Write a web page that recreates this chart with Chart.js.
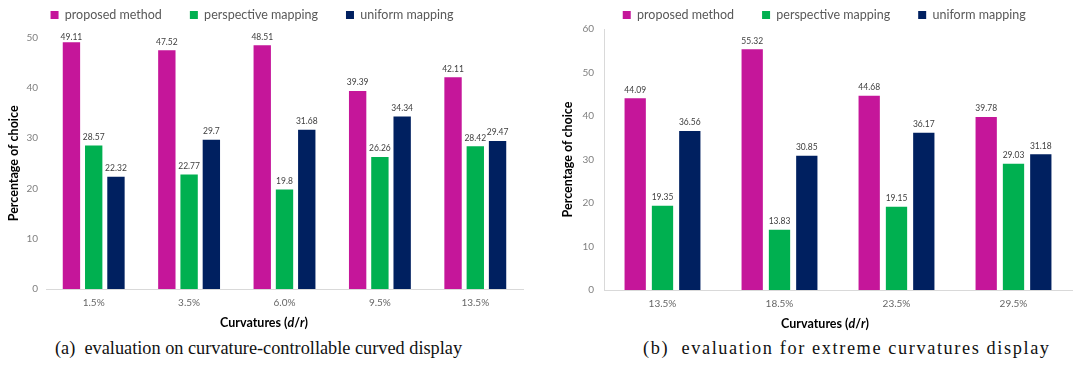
<!DOCTYPE html>
<html><head><meta charset="utf-8">
<script src="https://cdn.jsdelivr.net/npm/chart.js@4.4.1/dist/chart.umd.min.js"></script>
<style>
html,body{margin:0;padding:0;background:#fff;}
body{width:1081px;height:370px;position:relative;overflow:hidden;}
.wrap{position:absolute;top:0;height:335px;}
#wa{left:0;width:540px;} #wb{left:540px;width:541px;}
.cap{position:absolute;top:336px;font-family:"Liberation Serif","DejaVu Serif",serif;font-size:18.3px;color:#111;white-space:nowrap;line-height:24px;}
#capb{letter-spacing:1.6px;}
</style></head><body>
<div class="wrap" id="wa"><canvas id="ca" width="540" height="335"></canvas></div>
<div class="wrap" id="wb"><canvas id="cb" width="541" height="335"></canvas></div>
<div class="cap" id="capa" style="left:55px">(a)&nbsp;&nbsp;evaluation on curvature-controllable curved display</div>
<div class="cap" id="capb" style="left:643px">(b)&nbsp;&nbsp;evaluation for extreme curvatures display</div>
<script>
const seriesNames = ['proposed method', 'perspective mapping', 'uniform mapping'];
const seriesColors = ['#C5169A', '#00B050', '#002060'];

const categoriesA = ['1.5%', '3.5%', '6.0%', '9.5%', '13.5%'];
const proposedA = [49.11, 47.52, 48.51, 39.39, 42.11];
const perspectiveA = [28.57, 22.77, 19.8, 26.26, 28.42];
const uniformA = [22.32, 29.7, 31.68, 34.34, 29.47];
const yTicksA = [0, 10, 20, 30, 40, 50];

const categoriesB = ['13.5%', '18.5%', '23.5%', '29.5%'];
const proposedB = [44.09, 55.32, 44.68, 39.78];
const perspectiveB = [19.35, 13.83, 19.15, 29.03];
const uniformB = [36.56, 30.85, 36.17, 31.18];
const yTicksB = [0, 10, 20, 30, 40, 50, 60];

const yTitle = 'Percentage of choice';
const xTitleParts = ['Curvatures (', 'd', '/', 'r', ')'];

Chart.defaults.font.family = 'Lato';

const valueLabels = {
  id: 'valueLabels',
  afterDatasetsDraw(chart) {
    const ctx = chart.ctx;
    ctx.save();
    ctx.font = '8.5px Lato';
    ctx.fillStyle = '#404040';
    ctx.textAlign = 'center';
    ctx.textBaseline = 'alphabetic';
    chart.data.datasets.forEach((ds, i) => {
      chart.getDatasetMeta(i).data.forEach((bar, j) => {
        const y = Math.max(bar.y - 5.6, chart.chartArea.top + 2.5);
        ctx.fillText(String(ds.data[j]), bar.x, y);
      });
    });
    ctx.restore();
  }
};

const legendShift = {
  id: 'legendShift',
  afterLayout(chart, args, opts) {
    const l = chart.legend;
    if (!l) return;
    const p = l.options.labels.padding;
    const ih = Math.max(8, 12.5);
    const dx = opts.cx - (l.left + l.right) / 2;
    const dy = opts.cy - (l.top + p + ih / 2);
    l.left += dx; l.right += dx; l.top += dy;
  }
};

const xTitle = {
  id: 'xTitle',
  afterDraw(chart, args, opts) {
    const ctx = chart.ctx;
    ctx.save();
    const fonts = ['bold 12.5px Lato', 'italic bold 12.5px Lato', 'bold 12.5px Lato', 'italic bold 12.5px Lato', 'bold 12.5px Lato'];
    let total = 0;
    const widths = xTitleParts.map((t, i) => { ctx.font = fonts[i]; const w = ctx.measureText(t).width; total += w; return w; });
    let x = opts.cx - total / 2;
    ctx.fillStyle = '#000';
    ctx.textBaseline = 'middle';
    ctx.textAlign = 'left';
    xTitleParts.forEach((t, i) => { ctx.font = fonts[i]; ctx.fillText(t, x, opts.cy); x += widths[i]; });
    ctx.restore();
  }
};

function makeChart(id, cats, p, q, u, ticks, cfg) {
  return new Chart(document.getElementById(id), {
    type: 'bar',
    data: {
      labels: cats,
      datasets: [p, q, u].map((d, i) => ({
        label: seriesNames[i],
        data: d,
        backgroundColor: seriesColors[i],
        borderWidth: 0,
        categoryPercentage: 0.7,
        barPercentage: 0.78
      }))
    },
    options: {
      responsive: false,
      animation: false,
      events: [],
      layout: { padding: { top: 0, left: 0, right: cfg.padRight, bottom: 0 } },
      plugins: {
        tooltip: { enabled: false },
        legend: {
          position: 'top',
          maxHeight: cfg.legendH,
          labels: { boxWidth: 8, boxHeight: 8, padding: 28, color: '#595959', font: { size: 12.5, family: 'Lato' } }
        },
        legendShift: { cx: cfg.legendCx, cy: 15 },
        xTitle: { cx: cfg.xTitleCx, cy: cfg.xTitleCy }
      },
      scales: {
        x: {
          grid: { display: false, drawTicks: false },
          border: { display: true, color: '#d9d9d9', width: 1 },
          ticks: { padding: 8, color: '#666666', font: { size: 10 } },
          afterFit(s) { s.height = cfg.xH; }
        },
        y: {
          min: 0, max: ticks[ticks.length - 1],
          afterBuildTicks(s) { s.ticks = ticks.map(v => ({ value: v })); },
          grid: { display: false, drawTicks: false },
          border: { display: cfg.yBorder, color: '#d9d9d9', width: 1 },
          ticks: { padding: cfg.tickPad, color: '#808080', font: { size: 10 } },
          title: { display: true, text: yTitle, color: '#000', font: { size: 12.5, weight: 'bold' }, padding: { top: cfg.yTitlePad, bottom: 0 } },
          afterFit(s) { s.width = cfg.yW; }
        }
      }
    },
    plugins: [valueLabels, legendShift, xTitle]
  });
}

makeChart('ca', categoriesA, proposedA, perspectiveA, uniformA, yTicksA,
  { padRight: 17, legendH: 37.7, legendCx: 252, xTitleCx: 264, xTitleCy: 323, xH: 46, yBorder: false, tickPad: 8, yTitlePad: 6, yW: 46 });
makeChart('cb', categoriesB, proposedB, perspectiveB, uniformB, yTicksB,
  { padRight: 9, legendH: 29, legendCx: 284.2, xTitleCx: 285, xTitleCy: 324, xH: 45, yBorder: true, tickPad: 10, yTitlePad: 20, yW: 64 });
</script>
</body></html>
